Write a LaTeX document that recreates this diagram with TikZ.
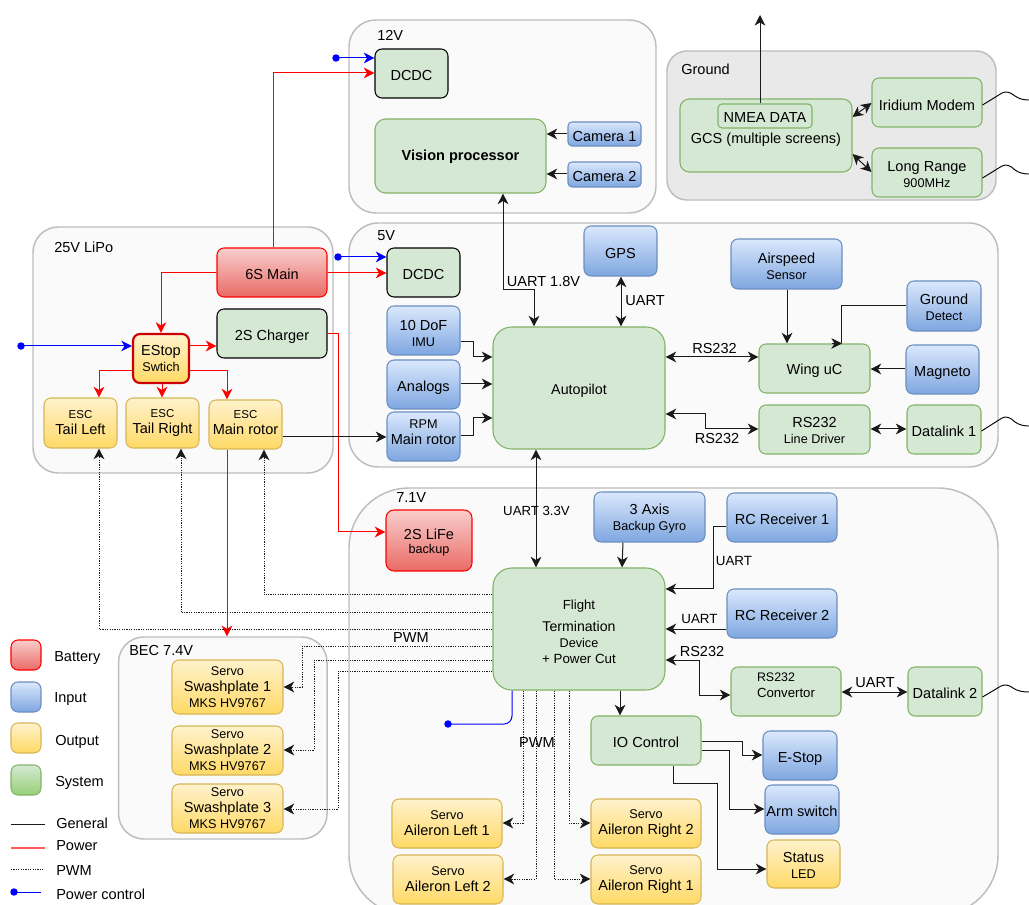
\documentclass[tikz,border=0pt]{standalone}
\usepackage{fontspec}
\setmainfont{Liberation Sans}
\usetikzlibrary{arrows.meta,calc}
\newcommand\fb{\fontsize{10.9}{12}\selectfont}
\newcommand\fs{\fontsize{9.5}{12}\selectfont}
\newcommand\ft{\fontsize{8.6}{11}\selectfont}
\newcommand\up{\rule{0pt}{10.8pt}}
\newcommand\upd{\rule{0pt}{12.3pt}}
\newcommand\upm{\rule{0pt}{9.3pt}}
\newcommand\bx[7]{\node[box,#2,minimum width={(#5-#3)*0.75pt},minimum height={(#6-#4)*0.75pt}] (#1) at ({(#3+#5)/2},{(#4+#6)/2}) {#7};}
\definecolor{cstroke}{HTML}{BDBDBD}
\definecolor{cfill}{HTML}{FAFAFA}
\definecolor{gfill}{HTML}{E9E9E9}
\definecolor{grnf}{HTML}{D5E8D4}
\definecolor{grns}{HTML}{82B366}
\definecolor{blt}{HTML}{DAE8FC}
\definecolor{blb}{HTML}{7EA6E0}
\definecolor{bls}{HTML}{6C8EBF}
\definecolor{yet}{HTML}{FFF2CC}
\definecolor{yeb}{HTML}{FFD966}
\definecolor{yes}{HTML}{D6B656}
\definecolor{ret}{HTML}{F8CECC}
\definecolor{reb}{HTML}{EA6B66}
\definecolor{syb}{HTML}{97D077}
\definecolor{lk}{HTML}{1A1A1A}
\tikzset{
 x=0.75pt,y=-0.75pt,
 box/.style={rectangle,inner sep=0pt,align=center,font=\fb,rounded corners=5.25pt,line width=0.8pt},
 bxblue/.style={draw=bls,top color=blt,bottom color=blb},
 bxyel/.style={draw=yes,top color=yet,bottom color=yeb},
 bxred/.style={draw=red,top color=ret,bottom color=reb},
 bxgrn/.style={draw=grns,fill=grnf},
 bxgrk/.style={draw=black,fill=grnf},
 bxsys/.style={draw=grns,top color=grnf,bottom color=syb},
 zone/.style={draw=cstroke,fill=cfill,line width=1.1pt,rectangle,inner sep=0pt},
 zlab/.style={font=\fb,inner sep=0pt,anchor=west},
 wlab/.style={font=\fb,inner sep=0pt},
 tip/.tip={Stealth[length=8pt,width=8pt,inset=2.4pt]},
 gen/.style={draw=lk,line width=0.75pt},
 arr/.style={gen,-tip},
 dbl/.style={gen,tip-tip},
 pw/.style={draw=red,line width=0.75pt,-tip},
 bl/.style={draw=blue,line width=0.75pt,-tip},
 pwm/.style={draw=lk,line width=0.75pt,dash pattern=on 0.9pt off 0.9pt,-tip},
 dotb/.style={circle,fill=blue,inner sep=0pt,minimum size=5.6pt},
 wave/.style={draw=black,line width=0.7pt},
}
\begin{document}
\begin{tikzpicture}
\useasboundingbox (0,0) rectangle (1029,905);
% zones
\node[zone,rounded corners=20pt,minimum width=230.25pt,minimum height=144.75pt] (z12) at (502.5,116.5) {};
\node[zone,rounded corners=22pt,minimum width=486.75pt,minimum height=183pt] (z5) at (673.5,345) {};
\node[zone,rounded corners=45pt,minimum width=486.75pt,minimum height=320.25pt] (z7) at (673.5,701.5) {};
\node[zone,fill=gfill,rounded corners=15pt,minimum width=246.75pt,minimum height=111.75pt] (zg) at (831.5,125.5) {};
\node[zone,rounded corners=19pt,minimum width=225pt,minimum height=184.5pt] (zb) at (183,350) {};
\node[zone,rounded corners=19pt,minimum width=156.4pt,minimum height=151.5pt] (zs) at (222.8,738) {};
\node[zlab] (l12) at (377,35) {12V};
\node[zlab] (l5) at (377,236) {5V};
\node[zlab] (l7) at (396,498) {7.1V};
\node[zlab] (lg) at (681,69) {Ground};
\node[zlab] (lb) at (54,247) {25V LiPo};
\node[zlab] (ls) at (129,650) {BEC 7.4V};
% boxes
\bx{dc12}{bxgrk}{375}{49}{448}{98}{\up DCDC}
\bx{vis}{bxgrn,rounded corners=8pt}{375}{119}{546}{193}{\upm\textbf{Vision processor}}
\bx{cam1}{bxblue,rounded corners=3pt}{568}{122}{641}{146}{\up Camera 1}
\bx{cam2}{bxblue,rounded corners=3pt}{568}{162}{641}{187}{\up Camera 2}
\bx{gcs}{bxgrn,rounded corners=7pt}{680}{99}{852}{172}{\rule{0pt}{15pt}GCS (multiple screens)}
\bx{nmea}{bxgrn,rounded corners=3pt}{718}{104}{812}{128}{\upm NMEA DATA}
\bx{iri}{bxgrn}{872}{78}{982}{127}{\upd Iridium Modem}
\bx{lr}{bxgrn}{872}{148}{982}{197}{\up Long Range\\\fs 900MHz}
\bx{main}{bxred}{217}{248}{327}{297}{\up 6S Main}
\bx{chg}{bxgrk}{217}{309}{327}{358}{\upd 2S Charger}
\bx{est}{bxyel,draw={rgb,255:red,204;green,0;blue,0},line width=1.6pt}{133}{334}{189}{383}{EStop\\\fs Swtich}
\bx{etl}{bxyel}{44}{398}{117}{448}{\ft ESC\\\fb Tail Left}
\bx{etr}{bxyel}{126}{398}{199}{448}{\ft ESC\\\fb Tail Right}
\bx{emr}{bxyel}{209}{400}{282}{449}{\ft ESC\\\fb Main rotor\rule[-3pt]{0pt}{0pt}}
\bx{dc5}{bxgrk}{387}{248}{460}{297}{\up DCDC}
\bx{gps}{bxblue}{584}{226}{657}{276}{\up GPS}
\bx{imu}{bxblue}{387}{306}{460}{355}{\upd 10 DoF\\\fs IMU}
\bx{ana}{bxblue}{387}{360}{460}{409}{\upd Analogs}
\bx{rpm}{bxblue}{387}{412}{460}{461}{\fs RPM\\\fb Main rotor\rule[-6pt]{0pt}{0pt}}
\bx{ap}{bxgrn,rounded corners=14pt}{493}{327}{665}{449}{\fontsize{10.7}{12}\selectfont\upd Autopilot}
\bx{air}{bxblue}{731}{239}{842}{289}{\up Airspeed\\\fs Sensor}
\bx{gd}{bxblue}{907}{281}{981}{331}{\upm Ground\\\fs Detect}
\bx{mag}{bxblue}{906}{345}{979}{394}{\upd Magneto}
\bx{wing}{bxgrn}{759}{344}{870}{393}{\up Wing uC}
\bx{ld}{bxgrn}{759}{405}{870}{454}{\upm RS232\\\fs Line Driver}
\bx{dl1}{bxgrn}{907}{405}{981}{454}{\up Datalink 1}
\bx{life}{bxred,rounded corners=6pt}{386}{510}{472}{571}{\rule{0pt}{11pt}2S LiFe\\[-2.2pt]\fs backup}
\bx{gyro}{bxblue}{594}{492}{705}{542}{\up 3 Axis\\\fs Backup Gyro}
\bx{rc1}{bxblue}{727}{493}{837}{542}{\up RC Receiver 1}
\bx{rc2}{bxblue}{727}{589}{837}{638}{\up RC Receiver 2}
\bx{ftd}{bxgrn,rounded corners=14pt}{493}{568}{665}{690}{\fontsize{9.9}{12}\selectfont\up Flight\\[4.5pt]\fontsize{10.6}{12}\selectfont Termination\\\fs Device\\\fontsize{10}{12}\selectfont + Power Cut}
\bx{conv}{bxgrn,align=left}{731}{667}{841}{716}{\fontsize{9.3}{12}\selectfont RS232\\\fontsize{9.9}{12}\selectfont Convertor\rule[-9pt]{0pt}{0pt}}
\bx{dl2}{bxgrn}{908}{667}{982}{716}{\up Datalink 2}
\bx{io}{bxgrn}{591}{716}{701}{765}{\up IO Control}
\bx{stop}{bxblue}{763}{731}{837}{780}{\upd E-Stop}
\bx{arm}{bxblue}{765}{785}{839}{834}{\up Arm switch}
\bx{led}{bxyel}{767}{840}{840}{888}{\upm Status\\\fs LED}
\bx{al1}{bxyel}{392}{799}{502}{848}{\fs Servo\\\fb Aileron Left 1}
\bx{al2}{bxyel}{393}{855}{503}{904}{\fs Servo\\\fb Aileron Left 2}
\bx{ar2}{bxyel}{591}{799}{701}{848}{\fs Servo\\\fb Aileron Right 2}
\bx{ar1}{bxyel}{591}{855}{701}{904}{\fs Servo\\\fb Aileron Right 1}
\bx{sw1}{bxyel}{172}{660}{283}{714}{\fs Servo\\\fb Swashplate 1\\\fs MKS HV9767}
\bx{sw2}{bxyel}{172}{726}{283}{775}{\fs Servo\\\fb Swashplate 2\\\fs MKS HV9767}
\bx{sw3}{bxyel}{172}{784}{283}{833}{\fs Servo\\\fb Swashplate 3\\\fs MKS HV9767}
% legend
\bx{k1}{bxred}{11}{640}{41}{670}{}
\bx{k2}{bxblue}{11}{682}{41}{712}{}
\bx{k3}{bxyel}{11}{723}{41}{753}{}
\bx{k4}{bxsys}{11}{765}{41}{795}{}
\node[zlab] (kt1) at (54,658.5) {Battery};
\node[zlab] (kt2) at (54,699.5) {Input};
\node[zlab] (kt3) at (55,741.5) {Output};
\node[zlab] (kt4) at (55,782.5) {System};
\node[zlab] (kt5) at (56,823) {General};
\node[zlab] (kt6) at (56,846) {Power};
\node[zlab] (kt7) at (56,870) {PWM};
\node[zlab] (kt8) at (56,894) {Power control};
\coordinate (ka) at (11,824); \coordinate (kb) at (45,824);
\coordinate (kc) at (11,848); \coordinate (kd) at (45,848);
\coordinate (ke) at (11,869); \coordinate (kf) at (44,869);
\coordinate (kh) at (41,892);
\node[dotb] (kg) at (14,892) {};
\draw[gen] (ka) -- (kb);
\draw[draw={rgb,255:red,255;green,90;blue,90},line width=1pt] (kc) -- (kd);
\draw[draw=lk,line width=0.75pt,dash pattern=on 0.9pt off 0.9pt] (ke) -- (kf);
\draw[draw=blue,line width=0.75pt] (kg.center) -- (kh);
% power connectors
\draw[pw] (main.north -| 273,0) |- (dc12.west |- 0,73);
\draw[pw] (main.east |- 0,273) -- (dc5.west |- 0,273);
\draw[pw] (main.west |- 0,273) -| (est.north -| 161,0);
\draw[pw] (est.east |- 0,346) -- (chg.west |- 0,346);
\draw[pw] (est.west |- 0,371) -| (etl.north -| 99,0);
\draw[pw] (est.south -| 162,0) -- (etr.north -| 162,0);
\draw[pw] (est.east |- 0,371) -| (emr.north -| 227,0);
\draw[pw] (chg.east |- 0,334) -- (338,334) |- (life.west |- 0,532);
\draw[pw] (emr.south -| 227,0) -- (zs.north -| 227,0);
% power control
\node[dotb] (d1) at (336,58) {};
\node[dotb] (d2) at (338,257) {};
\node[dotb] (d3) at (21,346) {};
\node[dotb] (d4) at (448,724) {};
\draw[bl] (d1.center) -- (dc12.west |- 0,58);
\draw[bl] (d2.center) -- (dc5.west |- 0,257);
\draw[bl] (d3.center) -- (est.west |- 0,346);
\draw[draw=blue,line width=0.75pt,rounded corners=6pt] (ftd.south -| 512,0) |- (d4.center);
% general connectors
\draw[arr] (emr.east |- 0,437) -- (rpm.west |- 0,437);
\draw[dbl] (vis.south -| 503,0) -- (503,290) -- (534,290) -- (ap.north -| 534,0);
\draw[dbl] (gps.south -| 621,0) -- (ap.north -| 621,0);
\draw[arr] (cam1.west |- 0,134) -- (vis.east |- 0,134);
\draw[arr] (cam2.west |- 0,174) -- (vis.east |- 0,174);
\draw[arr] (imu.east |- 0,342) -- (473,342) |- (ap.west |- 0,357);
\draw[arr] (ana.east |- 0,384) -- (ap.west |- 0,384);
\draw[arr] (rpm.east |- 0,436) -- (473,436) |- (ap.west |- 0,418);
\draw[dbl] (ap.east |- 0,357) -- (wing.west |- 0,357);
\draw[dbl] (ap.east |- 0,414) -- (705,414) |- (ld.west |- 0,429);
\draw[arr] (air.south -| 787,0) -- (wing.north -| 787,0);
\draw[gen] (gd.west |- 0,306) -| (wing.north -| 841,0);
\draw[arr] (wing.north -| 832,0) -- (wing.north -| 842,0);
\draw[arr] (mag.west |- 0,369) -- (wing.east |- 0,369);
\draw[dbl] (ld.east |- 0,429) -- (dl1.west |- 0,429);
\draw[dbl] (ap.south -| 536,0) -- (ftd.north -| 536,0);
\draw[arr] (gyro.south -| 623,0) -- (ftd.north -| 622,0);
\draw[arr] (rc1.west |- 0,527) -- (713,527) |- (ftd.east |- 0,589);
\draw[arr] (rc2.west |- 0,629) -- (ftd.east |- 0,629);
\draw[dbl] (ftd.east |- 0,660) -- (699,660) |- (conv.west |- 0,695);
\draw[dbl] (conv.east |- 0,692) -- (dl2.west |- 0,692);
\draw[arr] (ftd.south -| 620,0) -- (io.north -| 620,0);
\draw[arr] (io.east |- 0,741) -- (742,741) |- (stop.west |- 0,755);
\draw[arr] (io.east |- 0,750) -- (729,750) |- (arm.west |- 0,809);
\draw[arr] (io.south -| 673,0) -- (673,783) -- (717,783) |- (led.west |- 0,869);
\coordinate (up) at (760,15);
\draw[arr] (nmea.north -| 760,0) -- (up);
\draw[dbl] (gcs.east |- 0,117) -- (iri.west |- 0,103);
\draw[dbl] (gcs.east |- 0,154) -- (lr.west |- 0,172);
% radio links
\coordinate (w1) at (1029,100); \coordinate (w2) at (1029,174);
\coordinate (w3) at (1029,426); \coordinate (w4) at (1029,692);
\draw[wave] (iri.east |- 0,105) -- (1002,93) .. controls (1006,91) and (1010,92) .. (1015,96) .. controls (1019,99) and (1024,100) .. (w1);
\draw[wave] (lr.east |- 0,178) -- (1002,166) .. controls (1006,164) and (1010,165) .. (1015,170) .. controls (1019,173) and (1024,174) .. (w2);
\draw[wave] (dl1.east |- 0,431) -- (1002,418) .. controls (1006,416) and (1010,417) .. (1015,422) .. controls (1019,425) and (1024,426) .. (w3);
\draw[wave] (dl2.east |- 0,697) -- (1001,686) .. controls (1005,684) and (1009,685) .. (1013,688) .. controls (1017,691) and (1023,692) .. (w4);
% PWM
\draw[pwm] (ftd.west |- 0,595) -| (emr.south -| 264,0);
\draw[pwm] (ftd.west |- 0,613) -| (etr.south -| 181,0);
\draw[pwm] (ftd.west |- 0,629) -| (etl.south -| 99,0);
\draw[pwm] (ftd.west |- 0,646) -- (302,646) |- (sw1.east |- 0,687);
\draw[pwm] (ftd.west |- 0,660) -- (314,660) |- (sw2.east |- 0,750);
\draw[pwm] (ftd.west |- 0,671) -- (338,671) |- (sw3.east |- 0,809);
\draw[pwm] (ftd.south -| 523,0) |- (al1.east |- 0,823);
\draw[pwm] (ftd.south -| 536,0) |- (al2.east |- 0,879);
\draw[pwm] (ftd.south -| 554,0) |- (ar1.west |- 0,879);
\draw[pwm] (ftd.south -| 569,0) |- (ar2.west |- 0,823);
% wire labels
\node[wlab] (t1) at (543.5,281) {UART 1.8V};
\node[wlab] (t2) at (645,301) {UART};
\node[wlab] (t3) at (714.5,348) {RS232};
\node[wlab] (t4) at (717,438) {RS232};
\node[wlab,font=\fontsize{9.9}{12}\selectfont] (t5) at (536.5,511) {UART 3.3V};
\node[wlab,font=\fontsize{10}{12}\selectfont] (t6) at (734,561) {UART};
\node[wlab,font=\fontsize{10}{12}\selectfont] (t7) at (699.5,619) {UART};
\node[wlab] (t8) at (702,651) {RS232};
\node[wlab] (t9) at (875,683) {UART};
\node[wlab] (t10) at (411,638) {PWM};
\node[wlab] (t11) at (537,742) {PWM};
\end{tikzpicture}
\end{document}
